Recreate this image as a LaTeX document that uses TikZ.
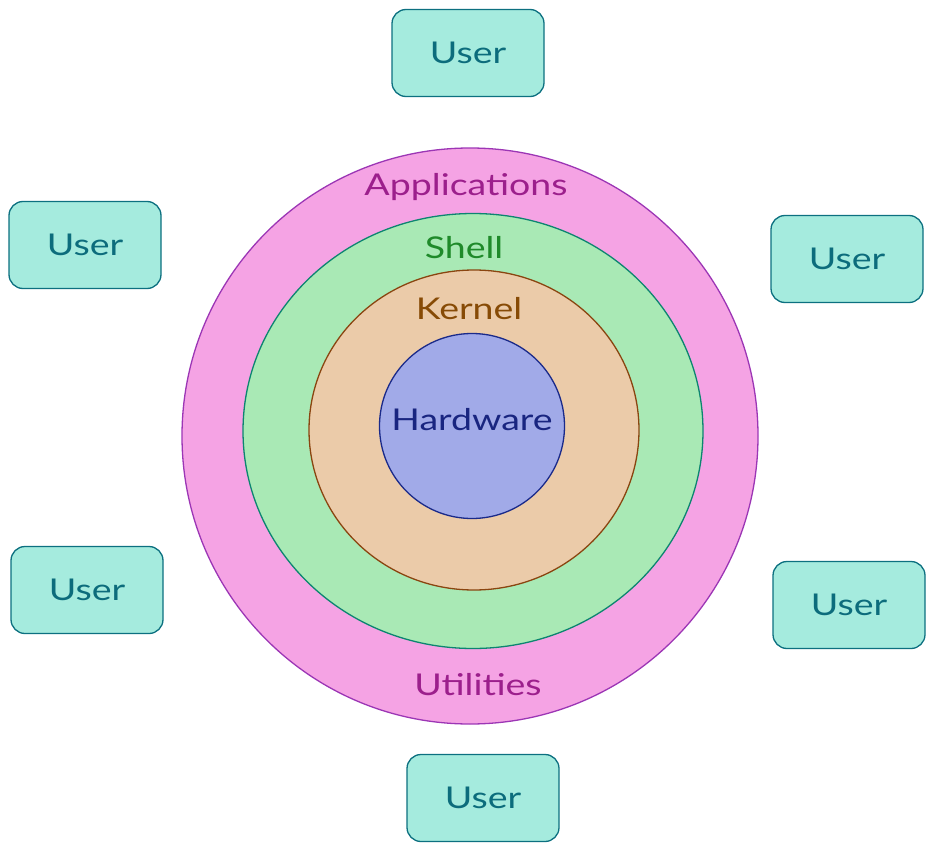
\documentclass[tikz,border=0pt]{standalone}
\usepackage{fontspec}
\setmainfont{Lato}
\usetikzlibrary{shapes.geometric}
\definecolor{appfill}{HTML}{F5A3E4}
\definecolor{appdraw}{HTML}{9C36B5}
\definecolor{apptext}{HTML}{9C1F8C}
\definecolor{shfill}{HTML}{A9E9B5}
\definecolor{shdraw}{HTML}{0C8570}
\definecolor{shtext}{HTML}{1F8A2A}
\definecolor{kfill}{HTML}{EBCBA9}
\definecolor{kdraw}{HTML}{8A4510}
\definecolor{ktext}{HTML}{874B06}
\definecolor{hfill}{HTML}{A1AAE8}
\definecolor{hdraw}{HTML}{1A2A8A}
\definecolor{htext}{HTML}{192580}
\definecolor{ufill}{HTML}{A5EBDE}
\definecolor{udraw}{HTML}{0C7080}
\definecolor{utext}{HTML}{0C6C7C}
\newcommand{\widetext}[1]{\scalebox{1.25}[1]{#1}}
\tikzset{
  layer/.style={ellipse, line width=1.3pt, inner sep=0pt},
  userbox/.style={draw=udraw, fill=ufill, line width=1.3pt, rounded corners=14pt,
    minimum width=152pt, minimum height=87pt, text=utext, font=\fontsize{30}{30}\selectfont},
  lbl/.style={font=\fontsize{30}{30}\selectfont, inner sep=0pt}
}
\begin{document}
\begin{tikzpicture}[x=1pt,y=-1pt]
\useasboundingbox (0,0) rectangle (935,851);
\node[layer, draw=appdraw, fill=appfill, minimum width=576pt, minimum height=576pt] (app) at (470,436) {};
\node[layer, draw=shdraw, fill=shfill, minimum width=460pt, minimum height=435pt] (shell) at (473,431) {};
\node[layer, draw=kdraw, fill=kfill, minimum width=330pt, minimum height=320pt] (kern) at (474,430) {};
\node[layer, draw=hdraw, fill=hfill, minimum width=185pt, minimum height=185pt] (hw) at (472,426) {};
\node[lbl, text=apptext] (tapp) at (466,187) {\widetext{Applications}};
\node[lbl, text=apptext] (tutil) at (478,685) {\widetext{Utilities}};
\node[lbl, text=shtext] (tsh) at (464,248) {\widetext{Shell}};
\node[lbl, text=ktext] (tk) at (469,309) {\widetext{Kernel}};
\node[lbl, text=htext] (th) at (472,420) {\widetext{Hardware}};
\node[userbox] (u1) at (468,53) {\widetext{User}};
\node[userbox] (u2) at (85,245) {\widetext{User}};
\node[userbox] (u3) at (847,259) {\widetext{User}};
\node[userbox] (u4) at (87,590) {\widetext{User}};
\node[userbox] (u5) at (849,605) {\widetext{User}};
\node[userbox] (u6) at (483,798) {\widetext{User}};
\end{tikzpicture}
\end{document}
